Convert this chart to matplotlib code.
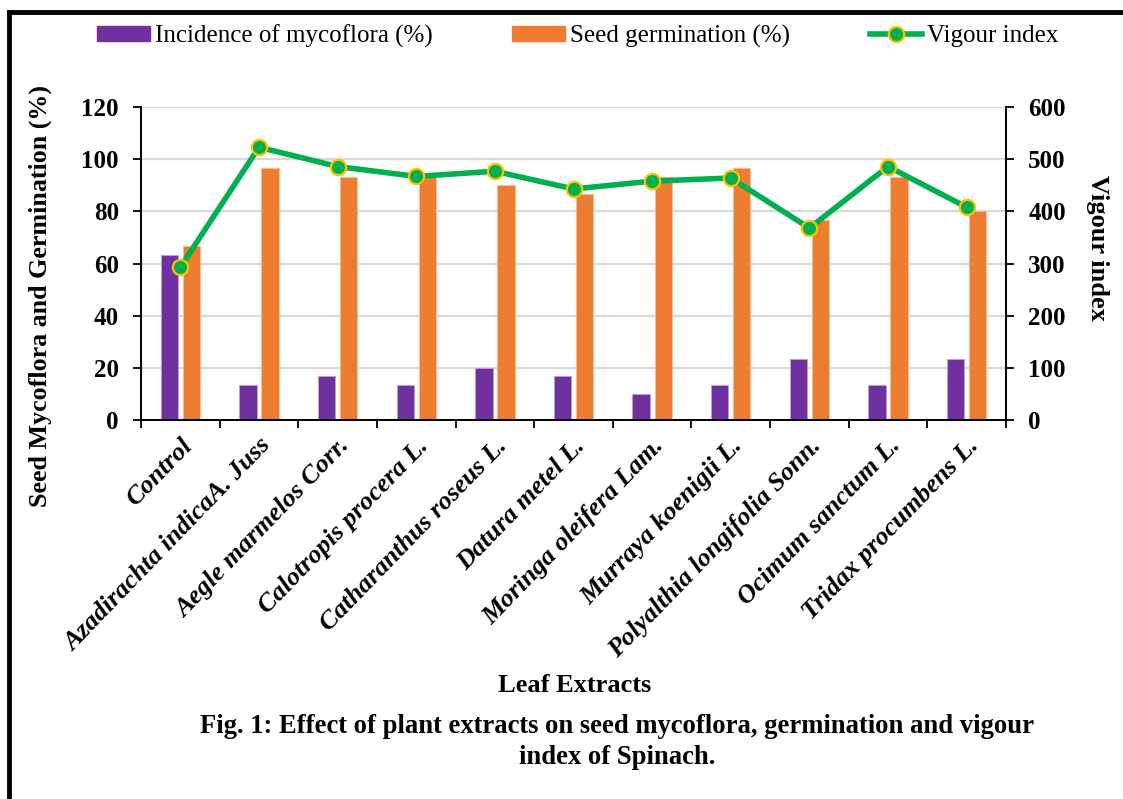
import numpy as np
import matplotlib.pyplot as plt
from matplotlib.lines import Line2D

plt.rcParams['font.family'] = ['Liberation Serif', 'DejaVu Serif']

extracts = ['Control', 'Azadirachta indicaA. Juss', 'Aegle marmelos Corr.',
            'Calotropis procera L.', 'Catharanthus roseus L.', 'Datura metel L.',
            'Moringa oleifera Lam.', 'Murraya koenigii L.', 'Polyalthia longifolia Sonn.',
            'Ocimum sanctum L.', 'Tridax procumbens L.']
mycoflora = [63.3, 13.3, 16.7, 13.3, 20.0, 16.7, 10.0, 13.3, 23.3, 13.3, 23.3]
germination = [66.7, 96.7, 93.3, 93.3, 90.0, 86.7, 93.3, 96.7, 76.7, 93.3, 80.0]
vigour = [293, 523, 486, 467, 477, 443, 458, 464, 368, 486, 408]
left_ticks = [0, 20, 40, 60, 80, 100, 120]
right_ticks = [0, 100, 200, 300, 400, 500, 600]

purple = '#7030A0'
orange = '#ED7D31'
green = '#00B050'
gold = '#FFC000'

fig = plt.figure(figsize=(11.23, 7.99), dpi=100)
ax = fig.add_axes([0.1256, 0.4743, 0.7702, 0.3917])
x = np.arange(len(extracts))
w = 0.22

ax.bar(x - 0.14, mycoflora, w, color=purple, edgecolor='#B9A3D3', linewidth=0.6, zorder=2)
ax.bar(x + 0.14, germination, w, color=orange, edgecolor='#F6BE98', linewidth=0.6, zorder=2)
ax.set_xlim(-0.5, len(extracts) - 0.5)
ax.set_ylim(0, 120)
ax.set_yticks(left_ticks)
ax.yaxis.grid(True, color='#D9D9D9', linewidth=1.6, zorder=0)
ax.set_axisbelow(True)

ax.set_xticks(x)
ax.set_xticklabels(extracts, rotation=46, ha='right', va='top', rotation_mode='anchor',
                   fontsize=19, fontweight='bold', fontstyle='italic')
ax.tick_params(axis='x', which='major', length=0, pad=10)
ax.set_xticks(np.arange(-0.5, len(extracts)), minor=True)
ax.tick_params(axis='x', which='minor', length=6, width=1.3, direction='out')
ax.tick_params(axis='y', length=6, width=1.3, labelsize=18, pad=10)
for lbl in ax.get_yticklabels():
    lbl.set_fontweight('bold')

ax2 = ax.twinx()
ax2.plot(x, vigour, color=green, linewidth=4, marker='o', markersize=11,
         markerfacecolor=green, markeredgecolor=gold, markeredgewidth=1.6, zorder=3)
ax2.set_ylim(0, 600)
ax2.set_yticks(right_ticks)
ax2.tick_params(axis='y', length=6, width=1.3, labelsize=18, pad=10)
for lbl in ax2.get_yticklabels():
    lbl.set_fontweight('bold')

for a in (ax, ax2):
    a.spines['top'].set_visible(False)
    for s in ('left', 'bottom', 'right'):
        a.spines[s].set_linewidth(1.3)

fig.text(40 / 1123, 1 - 296 / 799, 'Seed Mycoflora and Germination (%)', rotation=90,
         ha='center', va='center', fontsize=18.7, fontweight='bold')
fig.text(1097 / 1123, 1 - 248 / 799, 'Vigour index', rotation=-90,
         ha='center', va='center', fontsize=19, fontweight='bold')
fig.text(575 / 1123, 1 - 686 / 799, 'Leaf Extracts', ha='center', va='center',
         fontsize=19, fontweight='bold')
fig.text(617 / 1123, 1 - 742 / 799,
         'Fig. 1: Effect of plant extracts on seed mycoflora, germination and vigour\nindex of Spinach.',
         ha='center', va='center', fontsize=19.2, fontweight='bold', linespacing=1.3)

handles = [plt.Rectangle((0, 0), 1, 1, color=purple),
           plt.Rectangle((0, 0), 1, 1, color=orange),
           Line2D([], [], color=green, linewidth=4, marker='o', markersize=11,
                  markerfacecolor=green, markeredgecolor=gold, markeredgewidth=1.6)]
fig.legend(handles, ['Incidence of mycoflora (%)', 'Seed germination (%)', 'Vigour index'],
           loc='center', bbox_to_anchor=(578 / 1123, 1 - 36 / 799), ncol=3, frameon=False,
           fontsize=18, handlelength=2.1, handleheight=0.6, handletextpad=0.2,
           columnspacing=3.2)

# frame lines (top and left)
fig.add_artist(Line2D([9 / 1123, 1], [1 - 12 / 799, 1 - 12 / 799], color='black',
                      linewidth=3.5, transform=fig.transFigure))
fig.add_artist(Line2D([9 / 1123, 9 / 1123], [0, 1 - 12 / 799], color='black',
                      linewidth=3.5, transform=fig.transFigure))

fig.savefig('out.png', dpi=100)
